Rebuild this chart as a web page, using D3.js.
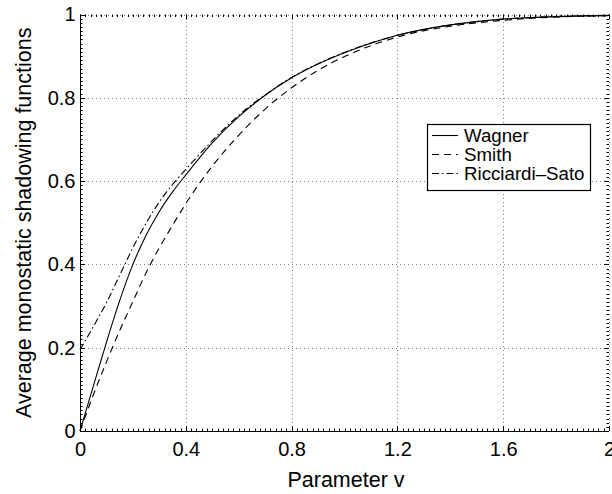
<!DOCTYPE html>
<html>
<head>
<meta charset="utf-8">
<script src="https://cdn.jsdelivr.net/npm/d3@7"></script>
<style>
  html, body { margin: 0; padding: 0; background: #fff; }
  svg { display: block; font-family: "Liberation Sans", Arial, Helvetica, sans-serif; }
</style>
</head>
<body>
<svg id="chart" width="612" height="494"></svg>
<script>
// Slope parameter v and the three average shadowing functions
const vValues = [0, 0.05, 0.1, 0.15, 0.2, 0.25, 0.3, 0.35, 0.4, 0.5, 0.6, 0.7, 0.8, 0.9, 1.0, 1.2, 1.4, 1.6, 1.8, 2.0];
const wagner = [0, 0.107, 0.213, 0.313, 0.400, 0.470, 0.527, 0.574, 0.615, 0.692, 0.755, 0.806, 0.848, 0.881, 0.908, 0.950, 0.975, 0.989, 0.995, 0.998];
const smith = [0, 0.086, 0.166, 0.241, 0.311, 0.380, 0.440, 0.494, 0.546, 0.636, 0.710, 0.773, 0.824, 0.866, 0.899, 0.946, 0.972, 0.986, 0.994, 0.997];
const ricciardiSato = [0.195, 0.250, 0.308, 0.374, 0.440, 0.499, 0.550, 0.592, 0.628, 0.697, 0.758, 0.807, 0.849, 0.882, 0.909, 0.950, 0.975, 0.989, 0.995, 0.998];

const xTicks = [0, 0.4, 0.8, 1.2, 1.6, 2];
const xTickLabels = ["0", "0.4", "0.8", "1.2", "1.6", "2"];
const yTicks = [0, 0.2, 0.4, 0.6, 0.8, 1];
const yTickLabels = ["0", "0.2", "0.4", "0.6", "0.8", "1"];

const seriesNames = ["Wagner", "Smith", "Ricciardi\u2013Sato"];
const seriesData = [wagner, smith, ricciardiSato];
const seriesDash = [null, "7,5", "7,3,1.5,3"];

const svg = d3.select("#chart");
const plotLeft = 80, plotRight = 609, plotTop = 14.5, plotBottom = 431;

const x = d3.scaleLinear().domain([0, 2]).range([plotLeft, plotRight]);
const y = d3.scaleLinear().domain([0, 1]).range([plotBottom, plotTop]);

const tickFont = 20;
const titleFont = 21.5;

// dotted grid
const grid = svg.append("g").attr("stroke", "#808080").attr("stroke-width", 1)
  .attr("stroke-dasharray", "1,3").attr("fill", "none");
xTicks.forEach(t => {
  if (t === 0) return;
  grid.append("line").attr("x1", Math.round(x(t)) + 0.5).attr("x2", Math.round(x(t)) + 0.5)
    .attr("y1", y(0)).attr("y2", y(1));
});
yTicks.forEach(t => {
  if (t === 0) return;
  grid.append("line").attr("y1", Math.round(y(t)) + 0.5).attr("y2", Math.round(y(t)) + 0.5)
    .attr("x1", x(0)).attr("x2", x(2));
});

// bottom and left axes
const xMinor = d3.range(0, 2.0001, 0.02);
const yMinor = d3.range(0, 1.0001, 0.01);

const xAxis = d3.axisBottom(x).tickValues(xTicks).tickFormat((d, i) => xTickLabels[i]).tickSize(0).tickPadding(10);
const gx = svg.append("g").attr("transform", `translate(0,${plotBottom + 0.5})`).call(xAxis);
gx.select(".domain").attr("stroke", "#000").attr("d", `M${plotLeft},0H${plotRight}`);
gx.selectAll("text").attr("font-size", tickFont).attr("font-family", null).attr("fill", "#000")
  .attr("dy", "0.71em");

const yAxis = d3.axisLeft(y).tickValues(yTicks).tickFormat((d, i) => yTickLabels[i]).tickSize(0).tickPadding(5);
const gy = svg.append("g").attr("transform", `translate(${plotLeft + 0.5},0)`).call(yAxis);
gy.select(".domain").attr("stroke", "#000").attr("d", `M0,${plotBottom}V${plotTop}`);
gy.selectAll("text").attr("font-size", tickFont).attr("font-family", null).attr("fill", "#000");

const ticks = svg.append("g").attr("stroke", "#000").attr("stroke-width", 1);
// minor ticks on all four sides
xMinor.forEach(t => {
  const px = Math.round(x(t)) + 0.5;
  ticks.append("line").attr("x1", px).attr("x2", px).attr("y1", plotBottom).attr("y2", plotBottom - 2.5);
  ticks.append("line").attr("x1", px).attr("x2", px).attr("y1", plotTop).attr("y2", plotTop + 2.5);
});
yMinor.forEach(t => {
  const py = Math.round(y(t)) + 0.5;
  ticks.append("line").attr("y1", py).attr("y2", py).attr("x1", plotLeft).attr("x2", plotLeft + 2.5);
  ticks.append("line").attr("y1", py).attr("y2", py).attr("x1", plotRight).attr("x2", plotRight - 2.5);
});
// major ticks
xTicks.forEach(t => {
  const px = Math.round(x(t)) + 0.5;
  ticks.append("line").attr("x1", px).attr("x2", px).attr("y1", plotBottom).attr("y2", plotBottom - 5);
  ticks.append("line").attr("x1", px).attr("x2", px).attr("y1", plotTop).attr("y2", plotTop + 5);
});
yTicks.forEach(t => {
  const py = Math.round(y(t)) + 0.5;
  ticks.append("line").attr("y1", py).attr("y2", py).attr("x1", plotLeft).attr("x2", plotLeft + 5);
  ticks.append("line").attr("y1", py).attr("y2", py).attr("x1", plotRight).attr("x2", plotRight - 5);
});

// curves
const line = d3.line().x((d, i) => x(vValues[i])).y(d => y(d)).curve(d3.curveMonotoneX);
seriesData.forEach((vals, k) => {
  svg.append("path").datum(vals).attr("d", line)
    .attr("fill", "none").attr("stroke", "#000").attr("stroke-width", 1.1)
    .attr("stroke-dasharray", seriesDash[k]);
});

// axis titles
svg.append("text").attr("x", 346).attr("y", 487)
  .attr("text-anchor", "middle").attr("font-size", titleFont).text("Parameter v");
svg.append("text").attr("transform", `translate(31,${(plotTop + plotBottom) / 2}) rotate(-90)`)
  .attr("text-anchor", "middle").attr("font-size", titleFont).text("Average monostatic shadowing functions");

// legend
const lg = svg.append("g");
lg.append("rect").attr("x", 427.5).attr("y", 124.5).attr("width", 163).attr("height", 66)
  .attr("fill", "#fff").attr("stroke", "#000").attr("stroke-width", 1.2);
seriesNames.forEach((name, k) => {
  const ly = 135 + k * 19;
  lg.append("line").attr("x1", 432).attr("x2", 458).attr("y1", ly + 0.5).attr("y2", ly + 0.5)
    .attr("stroke", "#000").attr("stroke-width", 1.1).attr("stroke-dasharray", seriesDash[k]);
  lg.append("text").attr("x", 464).attr("y", ly + 6.5).attr("font-size", 18.7).text(name);
});
</script>
</body>
</html>
